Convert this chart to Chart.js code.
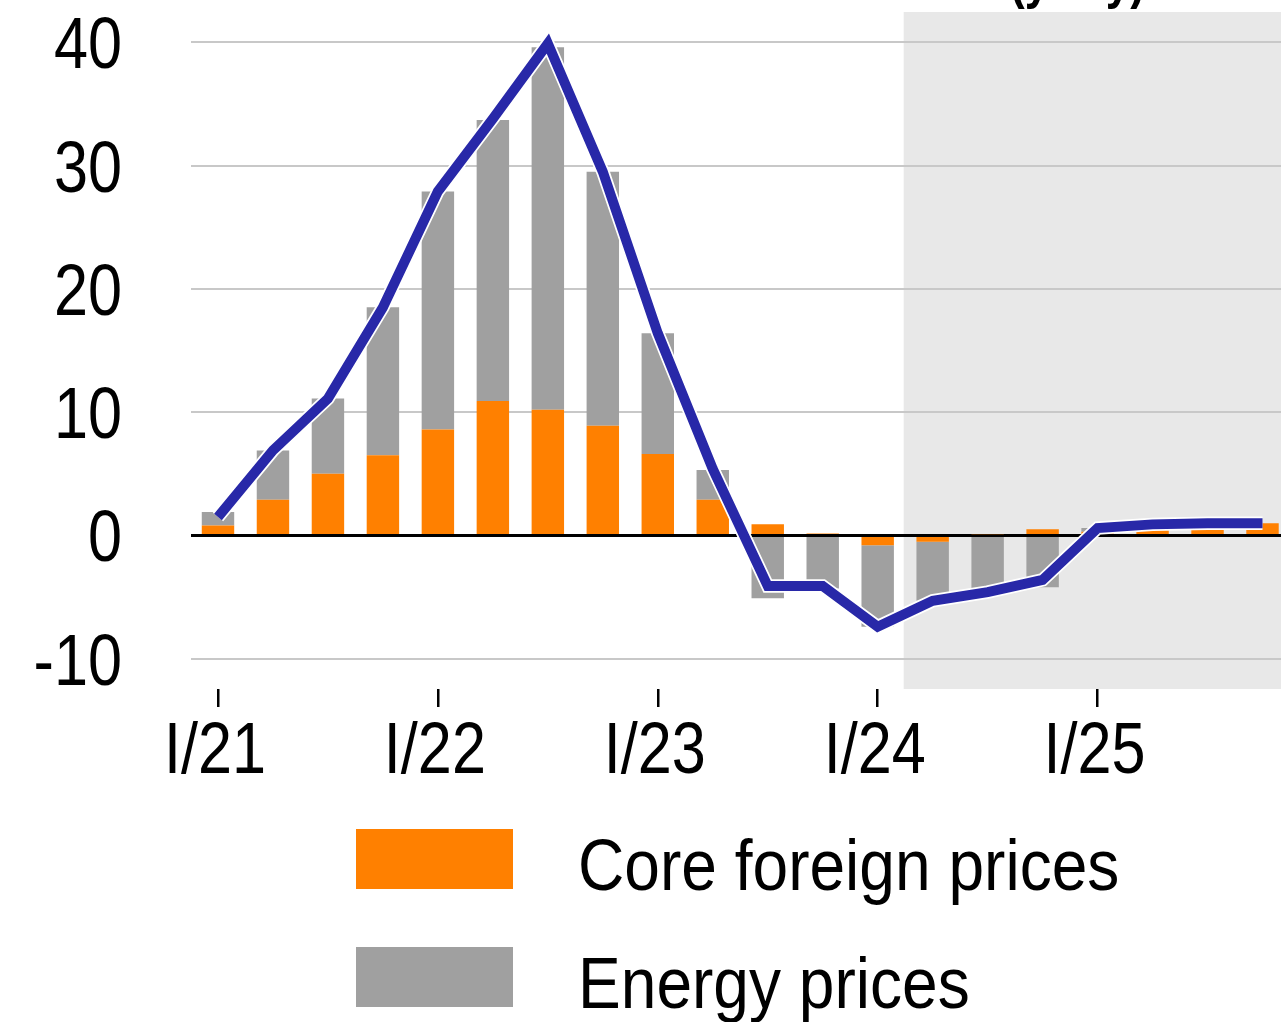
<!DOCTYPE html>
<html lang="en">
<head>
<meta charset="UTF-8">
<title>Foreign prices (y-o-y)</title>
<script src="https://cdn.jsdelivr.net/npm/chart.js"></script>
<style>
  html, body { margin: 0; padding: 0; background: #fff; overflow: hidden; }
  canvas { display: block; }
</style>
</head>
<body>
<canvas id="grafico" width="1290" height="1022"></canvas>
<script>
// ================= DATA =================
const quarters = [
  "I/21", "II/21", "III/21", "IV/21",
  "I/22", "II/22", "III/22", "IV/22",
  "I/23", "II/23", "III/23", "IV/23",
  "I/24", "II/24", "III/24", "IV/24",
  "I/25", "II/25", "III/25", "IV/25"
];
const corePrices   = [0.8, 2.9, 5.0, 6.5, 8.6, 10.9, 10.2, 8.9, 6.6, 2.9, 0.9, 0.15, -0.8, -0.5, 0.1, 0.5, 0.3, 0.5, 0.5, 1.0];
const energyPrices = [1.1, 4.0, 6.1, 12.0, 19.3, 22.8, 29.4, 20.6, 9.8, 2.4, -5.1, -4.3, -6.6, -4.8, -4.6, -4.2, 0.3, 0.4, 0.5, 0.0];
const totalPrices  = [1.5, 6.9, 11.1, 18.5, 27.9, 33.8, 39.9, 29.5, 16.4, 5.4, -4.1, -4.1, -7.4, -5.3, -4.6, -3.6, 0.6, 0.9, 1.0, 1.0];
const yTicks = [-10, 0, 10, 20, 30, 40];
const forecastFrom = 13; // index of II/24, first forecast quarter
const titleText = "(y-o-y)";

// ================= STYLE =================
// no narrow font installed -> squeeze Liberation Sans horizontally
const FONT = "'Liberation Sans', Arial, sans-serif";
const SQUEEZE_TICKS = 0.85;
const SQUEEZE_LEGEND = 0.89;
const ORANGE = "#FF8000";
const GREY = "#A0A0A0";
const BLUE = "#2828A8";

function narrowText(ctx, text, x, y, k, align) {
  ctx.save();
  ctx.translate(x, y);
  ctx.scale(k, 1);
  ctx.textAlign = align;
  ctx.textBaseline = "alphabetic";
  ctx.fillText(text, 0, 0);
  ctx.restore();
}

// shaded forecast area, drawn before the grid
const forecastShade = {
  id: "forecastShade",
  beforeDraw(chart) {
    const { ctx, chartArea, scales } = chart;
    const x0 = (scales.x.getPixelForValue(forecastFrom - 1) + scales.x.getPixelForValue(forecastFrom)) / 2 - 1.5;
    ctx.save();
    ctx.fillStyle = "#E8E8E8";
    ctx.fillRect(x0, chartArea.top, chartArea.right - x0, chartArea.bottom - chartArea.top);
    ctx.restore();
  }
};

// tick labels, cut-off title and legend
const labelsAndLegend = {
  id: "labelsAndLegend",
  afterDraw(chart) {
    const { ctx, scales } = chart;
    ctx.save();
    ctx.fillStyle = "#000";

    ctx.font = "72px " + FONT;
    scales.y.ticks.forEach(t => {
      narrowText(ctx, String(t.value), 122, scales.y.getPixelForValue(t.value) + 26, SQUEEZE_TICKS, "right");
    });
    scales.x.ticks.forEach((t, i) => {
      if (i % 4 !== 0) return;
      narrowText(ctx, quarters[i], scales.x.getPixelForTick(i) - 3, 773, SQUEEZE_TICKS, "center");
    });

    ctx.font = "bold 52px " + FONT;
    narrowText(ctx, titleText, 1010, -2, SQUEEZE_TICKS, "left");

    const items = chart.data.datasets.filter(d => d.type === "bar");
    const rows = [859, 977];
    ctx.font = "72px " + FONT;
    items.forEach((d, i) => {
      ctx.fillStyle = d.backgroundColor;
      ctx.fillRect(356, rows[i] - 30, 157, 60);
      ctx.fillStyle = "#000";
      narrowText(ctx, d.label, 578, rows[i] + 31, SQUEEZE_LEGEND, "left");
    });
    ctx.restore();
  }
};

// ================= CHART =================
new Chart(document.getElementById("grafico"), {
  data: {
    labels: quarters,
    datasets: [
      {
        type: "line", label: "Total", data: totalPrices, stack: "l1", order: 0,
        borderColor: BLUE, borderWidth: 10, pointRadius: 0, tension: 0,
        borderJoinStyle: "miter", borderCapStyle: "butt"
      },
      {
        type: "line", label: "halo", data: totalPrices, stack: "l2", order: 1,
        borderColor: "#FFFFFF", borderWidth: 13.5, pointRadius: 0, tension: 0,
        borderJoinStyle: "miter", borderCapStyle: "butt"
      },
      {
        type: "bar", label: "Core foreign prices", data: corePrices, stack: "bars", order: 2,
        backgroundColor: ORANGE, borderWidth: 0,
        barPercentage: 0.59, categoryPercentage: 1.0
      },
      {
        type: "bar", label: "Energy prices", data: energyPrices, stack: "bars", order: 3,
        backgroundColor: GREY, borderWidth: 0,
        barPercentage: 0.59, categoryPercentage: 1.0
      }
    ]
  },
  options: {
    responsive: false,
    devicePixelRatio: 1,
    animation: false,
    layout: { padding: { top: 12, left: 0, right: 0, bottom: 0 } },
    plugins: {
      legend: { display: false },
      tooltip: { enabled: false },
      title: { display: false }
    },
    scales: {
      x: {
        stacked: true,
        border: { display: false },
        grid: {
          offset: false,
          drawOnChartArea: false,
          drawTicks: true,
          tickLength: 18,
          lineWidth: 2.5,
          color: c => (c.index % 4 === 0 ? "#000" : "rgba(0,0,0,0)")
        },
        ticks: { display: false, autoSkip: false, maxRotation: 0 },
        afterFit: s => { s.height = 1022 - 689; }
      },
      y: {
        stacked: true,
        min: -12.45,
        max: 42.45,
        border: { display: false },
        afterBuildTicks: s => { s.ticks = yTicks.map(v => ({ value: v })); },
        grid: {
          drawTicks: false,
          color: c => (c.tick && c.tick.value === 0 ? "#000" : "#C8C8C8"),
          lineWidth: c => (c.tick && c.tick.value === 0 ? 3 : 2)
        },
        ticks: { display: false },
        afterFit: s => { s.width = 190.5; }
      }
    }
  },
  plugins: [forecastShade, labelsAndLegend]
});
</script>
</body>
</html>
